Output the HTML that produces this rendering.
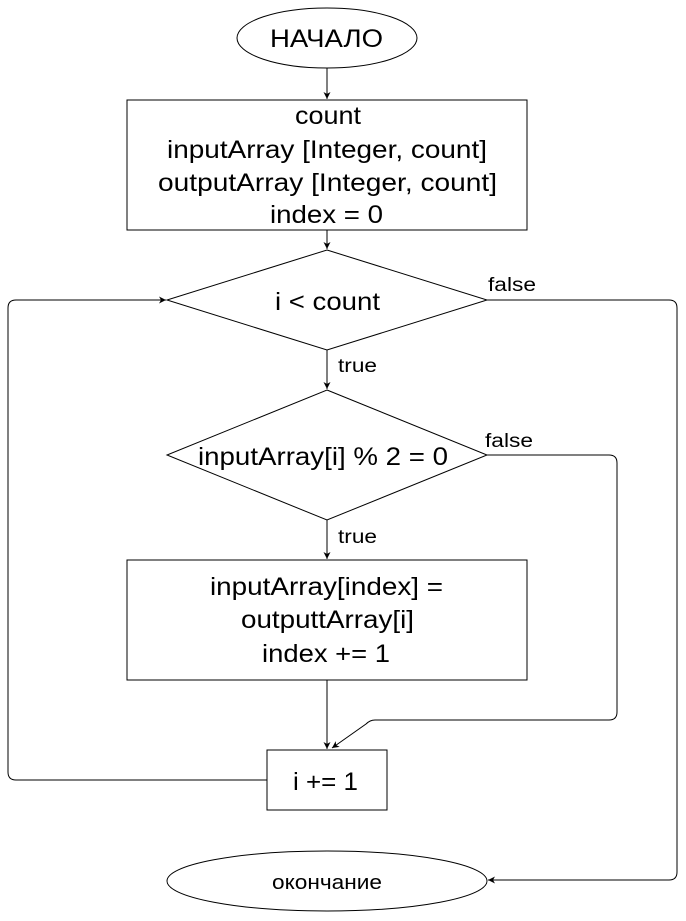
<!DOCTYPE html>
<html><head><meta charset="utf-8"><style>
html,body{margin:0;padding:0;background:#fff;}
svg{display:block;}
text{font-family:"Liberation Sans","DejaVu Sans",sans-serif;fill:#000;}
</style></head><body>
<svg width="686" height="921" viewBox="0 0 686 921" xmlns="http://www.w3.org/2000/svg">
<defs>
<marker id="a" markerWidth="8" markerHeight="8" refX="7" refY="4" orient="auto" markerUnits="userSpaceOnUse">
<path d="M0,0.5 L7,4 L0,7.5 L2,4 Z" fill="#000"/>
</marker>
</defs>
<g fill="#fff" stroke="#000" stroke-width="1">
<ellipse cx="327" cy="38" rx="90" ry="30"/>
<rect x="127" y="100" width="400" height="130"/>
<polygon points="327,250 487,300 327,350 167,300"/>
<polygon points="327,390 487,455 327,520 167,455"/>
<rect x="127" y="560" width="400" height="120"/>
<rect x="267" y="750" width="120" height="60"/>
<ellipse cx="327" cy="881" rx="160" ry="30"/>
</g>
<g fill="none" stroke="#000" stroke-width="1">
<line x1="327" y1="68" x2="327" y2="99" marker-end="url(#a)"/>
<line x1="327" y1="230" x2="327" y2="249" marker-end="url(#a)"/>
<line x1="327" y1="350" x2="327" y2="389" marker-end="url(#a)"/>
<line x1="327" y1="520" x2="327" y2="559" marker-end="url(#a)"/>
<line x1="327" y1="680" x2="327" y2="749" marker-end="url(#a)"/>
<path d="M267,780 H16 Q8,780 8,772 V308 Q8,300 16,300 H166" marker-end="url(#a)"/>
<path d="M487,300 H669 Q677,300 677,308 V872 Q677,880 669,880 H488" marker-end="url(#a)"/>
<path d="M487,455 H609 Q617,455 617,463 V712 Q617,720 609,720 H375 Q370,720 366,724 L332,748" marker-end="url(#a)"/>
</g>
<g font-size="25">
<text x="270" y="47" textLength="113" lengthAdjust="spacingAndGlyphs">НАЧАЛО</text>
<text x="295" y="124" textLength="66" lengthAdjust="spacingAndGlyphs">count</text>
<text x="167" y="158" textLength="320" lengthAdjust="spacingAndGlyphs">inputArray [Integer, count]</text>
<text x="158" y="191" textLength="339" lengthAdjust="spacingAndGlyphs">outputArray [Integer, count]</text>
<text x="270" y="223" textLength="113" lengthAdjust="spacingAndGlyphs">index = 0</text>
<text x="275" y="310" textLength="105" lengthAdjust="spacingAndGlyphs">i &lt; count</text>
<text x="198" y="465" textLength="250" lengthAdjust="spacingAndGlyphs">inputArray[i] % 2 = 0</text>
<text x="210" y="595" textLength="233" lengthAdjust="spacingAndGlyphs">inputArray[index] =</text>
<text x="241" y="628" textLength="173" lengthAdjust="spacingAndGlyphs">outputtArray[i]</text>
<text x="262" y="662" textLength="128" lengthAdjust="spacingAndGlyphs">index += 1</text>
<text x="293" y="790" textLength="65" lengthAdjust="spacingAndGlyphs">i += 1</text>
</g>
<text x="272" y="889" font-size="20" textLength="110" lengthAdjust="spacingAndGlyphs">окончание</text>
<g font-size="19">
<text x="488" y="291" textLength="48" lengthAdjust="spacingAndGlyphs">false</text>
<text x="338" y="372" textLength="39" lengthAdjust="spacingAndGlyphs">true</text>
<text x="485" y="447" textLength="48" lengthAdjust="spacingAndGlyphs">false</text>
<text x="338" y="543" textLength="39" lengthAdjust="spacingAndGlyphs">true</text>
</g>
</svg>
</body></html>
